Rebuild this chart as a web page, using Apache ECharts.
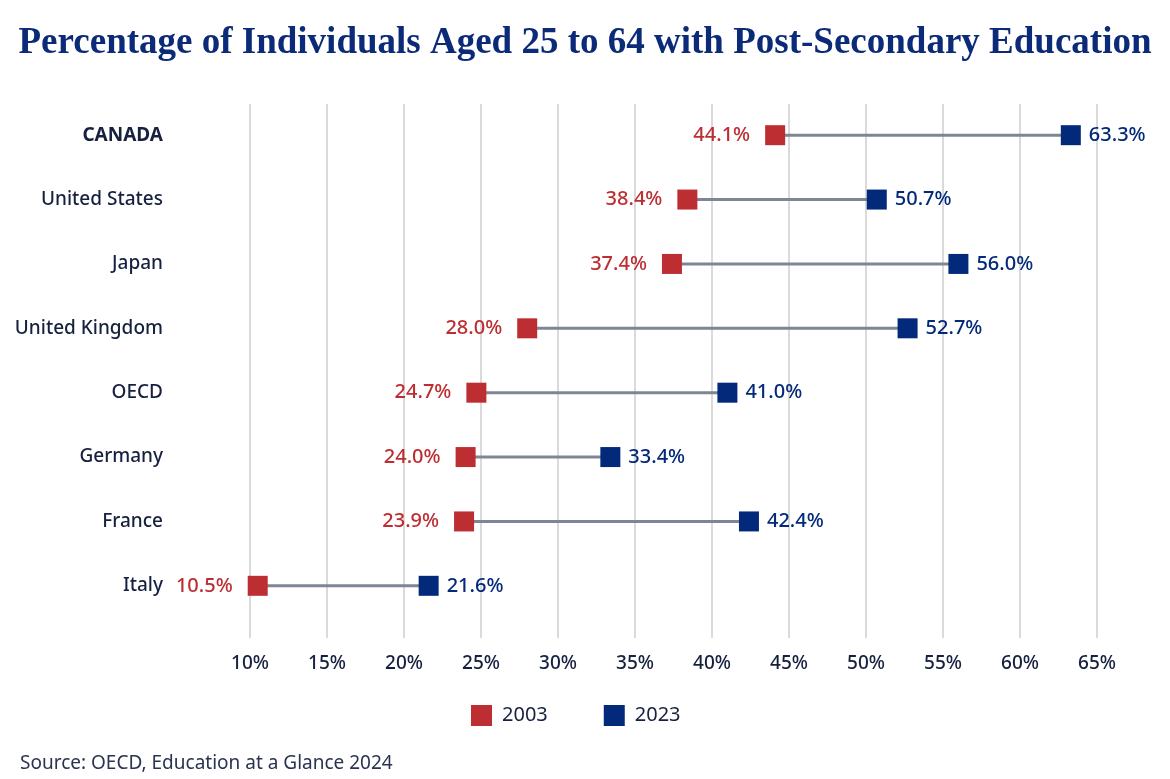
<!DOCTYPE html>
<html>
<head>
<meta charset="utf-8">
<script src="https://cdn.jsdelivr.net/npm/echarts@6/dist/echarts.min.js"></script>
<style>
html,body{margin:0;padding:0;background:#fff;}
#chart{width:1170px;height:779px;}
</style>
</head>
<body>
<div id="chart"></div>
<script>
var countries = ['CANADA', 'United States', 'Japan', 'United Kingdom', 'OECD', 'Germany', 'France', 'Italy'];
var values2003 = [44.1, 38.4, 37.4, 28.0, 24.7, 24.0, 23.9, 10.5];
var values2023 = [63.3, 50.7, 56.0, 52.7, 41.0, 33.4, 42.4, 21.6];
var seriesNames = ['2003', '2023'];
var xMin = 10, xMax = 65, xStep = 5;

var RED = '#BD2E32', BLUE = '#032A7A', NAVY = '#16213F', LINE = '#7E8694';
var FONT = '"Noto Sans", sans-serif';

var chart = echarts.init(document.getElementById('chart'), null, {renderer: 'canvas'});

var segData = countries.map(function (c, i) { return [i, values2003[i], values2023[i]]; });

var option = {
  backgroundColor: '#fff',
  animation: false,
  title: [{
    text: 'Percentage of Individuals Aged 25 to 64 with Post-Secondary Education',
    left: 'center', top: 20,
    textStyle: {fontFamily: '"Liberation Serif", "DejaVu Serif", serif', fontWeight: 'bold', fontSize: 37, color: '#0B2A78'}
  }, {
    text: 'Source: OECD, Education at a Glance 2024',
    left: 15, top: 749,
    textStyle: {fontFamily: FONT, fontWeight: 'normal', fontSize: 19, color: '#2A3350'}
  }],
  legend: {
    top: 700, left: 466,
    itemWidth: 21, itemHeight: 21, itemGap: 56,
    icon: 'rect',
    textStyle: {fontFamily: FONT, fontSize: 20, color: NAVY, padding: [0, 0, 0, 5]},
    data: seriesNames
  },
  grid: [
    {left: 250, right: 73, top: 103, height: 515},
    {left: 250, right: 73, top: 104, height: 534}
  ],
  xAxis: [
    {gridIndex: 0, type: 'value', min: xMin, max: xMax, interval: xStep, show: false, splitLine: {show: false}},
    {gridIndex: 1, type: 'value', min: xMin, max: xMax, interval: xStep,
      axisLine: {show: false}, axisTick: {show: false},
      splitLine: {show: true, lineStyle: {color: '#DADADA', width: 2}},
      axisLabel: {formatter: '{value}%', margin: 16, fontFamily: FONT, fontSize: 19, fontWeight: 500, color: NAVY}}
  ],
  yAxis: [
    {gridIndex: 0, type: 'category', data: countries, inverse: true,
      axisLine: {show: false}, axisTick: {show: false}, splitLine: {show: false},
      axisLabel: {margin: 87, fontFamily: FONT, fontSize: 19, fontWeight: 500, color: NAVY,
        formatter: function (v) { return v === 'CANADA' ? '{b|' + v + '}' : v; },
        rich: {b: {fontFamily: FONT, fontSize: 19, fontWeight: 'bold', color: NAVY}}}},
    {gridIndex: 1, type: 'category', data: countries, inverse: true, show: false}
  ],
  series: [
    {
      type: 'custom', xAxisIndex: 0, yAxisIndex: 0, silent: true, z: 1,
      data: segData,
      renderItem: function (params, api) {
        var p1 = api.coord([api.value(1), api.value(0)]);
        var p2 = api.coord([api.value(2), api.value(0)]);
        return {type: 'line', shape: {x1: p1[0], y1: p1[1], x2: p2[0], y2: p2[1]},
          style: {stroke: LINE, lineWidth: 3}};
      }
    },
    {
      name: seriesNames[0], type: 'scatter', xAxisIndex: 0, yAxisIndex: 0, z: 3,
      symbol: 'rect', symbolSize: 20,
      itemStyle: {color: RED, opacity: 1},
      data: values2003.map(function (v, i) { return [v, countries[i]]; }),
      label: {show: true, position: 'left', distance: 15,
        formatter: function (p) { return p.value[0].toFixed(1) + '%'; },
        fontFamily: FONT, fontSize: 20, fontWeight: 500, color: RED}
    },
    {
      name: seriesNames[1], type: 'scatter', xAxisIndex: 0, yAxisIndex: 0, z: 3,
      symbol: 'rect', symbolSize: 20,
      itemStyle: {color: BLUE, opacity: 1},
      data: values2023.map(function (v, i) { return [v, countries[i]]; }),
      label: {show: true, position: 'right', distance: 8,
        formatter: function (p) { return p.value[0].toFixed(1) + '%'; },
        fontFamily: FONT, fontSize: 20, fontWeight: 500, color: BLUE}
    }
  ]
};
chart.setOption(option);
</script>
</body>
</html>
